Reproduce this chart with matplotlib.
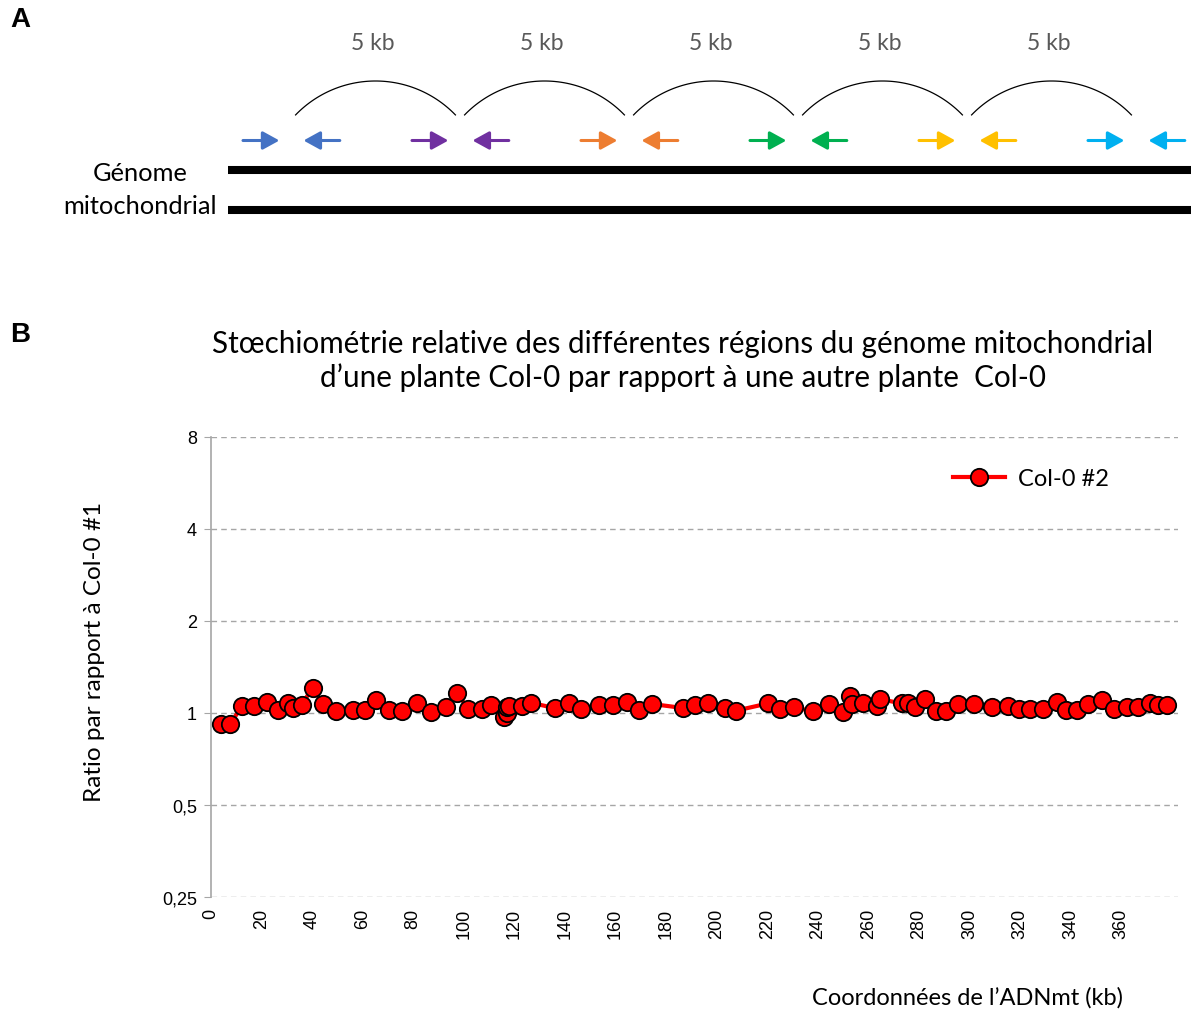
import matplotlib
matplotlib.use("Agg")
import matplotlib.pyplot as plt
import numpy as np

# ---- panel A: schematic of the 5 kb amplicons along the mt genome ----
primer_pairs_kb = [0, 5, 10, 15, 20, 25]        # junction between two amplicons
primer_colors = ["#4472C4", "#7030A0", "#ED7D31", "#00B050", "#FFC000", "#00B0F0"]
amplicon_labels = ["5 kb", "5 kb", "5 kb", "5 kb", "5 kb"]

# ---- panel B: relative stoichiometry along the mt genome ----
coord_kb = [3.8, 7.5, 12.4, 17.1, 22.3, 26.4, 30.3, 32.6, 35.9, 40.2,
            44.2, 49.4, 56.0, 61.0, 65.1, 70.5, 75.7, 81.6, 87.0, 92.8,
            97.4, 101.8, 107.0, 110.6, 115.8, 116.9, 116.9, 117.8, 122.9, 126.5,
            136.0, 141.7, 146.4, 153.5, 159.2, 164.4, 169.3, 174.6, 186.8, 191.5,
            196.7, 203.3, 207.7, 220.4, 225.1, 230.6, 238.0, 244.5, 249.9, 252.8,
            253.4, 258.0, 263.3, 264.6, 273.2, 275.8, 278.5, 282.4, 286.7, 290.7,
            295.4, 301.9, 308.8, 315.4, 319.6, 324.0, 329.2, 334.5, 338.1, 342.4,
            347.0, 352.6, 357.2, 362.5, 366.6, 371.4, 374.7, 378.0]
ratio = [0.92, 0.92, 1.056, 1.056, 1.089, 1.025, 1.075, 1.038, 1.065, 1.21,
         1.07, 1.018, 1.02, 1.02, 1.10, 1.02, 1.018, 1.08, 1.01, 1.05,
         1.16, 1.03, 1.03, 1.06, 0.968, 1.0, 1.045, 1.056, 1.056, 1.08,
         1.038, 1.08, 1.03, 1.06, 1.06, 1.09, 1.02, 1.07, 1.038, 1.065,
         1.08, 1.038, 1.018, 1.075, 1.03, 1.044, 1.013, 1.07, 1.005, 1.14,
         1.07, 1.08, 1.056, 1.11, 1.075, 1.08, 1.044, 1.11, 1.018, 1.013,
         1.07, 1.07, 1.05, 1.056, 1.03, 1.03, 1.03, 1.089, 1.02, 1.02,
         1.07, 1.105, 1.03, 1.05, 1.05, 1.075, 1.065, 1.06]
series_name = "Col-0 #2"
y_ticks = [0.25, 0.5, 1, 2, 4, 8]
y_ticklabels = ["0,25", "0,5", "1", "2", "4", "8"]
x_ticks = list(range(0, 361, 20))

calibri = ["Lato", "DejaVu Sans"]
arial = ["Liberation Sans", "DejaVu Sans"]

W, H = 1191, 1012
fig = plt.figure(figsize=(W / 100, H / 100), dpi=100)

# panel A axes: x in kb (33.8 px per kb, first junction at px 291), y in px from top
px_per_kb = 33.8
x0_px = 291
axA = fig.add_axes([0, 1 - 240 / H, 1, 240 / H])
axA.set_xlim(-x0_px / px_per_kb, (W - x0_px) / px_per_kb)
axA.set_ylim(240, 0)
axA.axis("off")

# genome strands
for yl in (170.5, 211.3):
    axA.plot([-63 / px_per_kb, W / px_per_kb], [yl, yl], color="black", lw=5.8,
             solid_capstyle="butt")

# primers
for c_kb, col in zip(primer_pairs_kb, primer_colors):
    fwd = (c_kb - 48 / px_per_kb, c_kb - 11.6 / px_per_kb)
    rev = (c_kb + 48.8 / px_per_kb, c_kb + 12.5 / px_per_kb)
    for tail, head in (fwd, rev):
        axA.annotate("", xy=(head, 141.5), xytext=(tail, 141.5),
                     arrowprops=dict(arrowstyle="-|>,head_length=1.0,head_width=0.55",
                                     mutation_scale=10, lw=2.2, color=col,
                                     shrinkA=0, shrinkB=0))

# arcs between consecutive junctions
r = 111.1
t = np.linspace(np.radians(44), np.radians(136), 60)
for a, b, lab in zip(primer_pairs_kb[:-1], primer_pairs_kb[1:], amplicon_labels):
    mid = (a + b) / 2
    axA.plot(mid + r * np.cos(t) / px_per_kb, 82 + r - r * np.sin(t),
             color="black", lw=0.9)
    axA.text(mid - 3 / px_per_kb, 44, lab, ha="center", va="center",
             fontsize=16.5, color="#595959", family=calibri)

axA.text(140 / px_per_kb - x0_px / px_per_kb, 174, "Génome", ha="center", va="center",
         fontsize=18.3, family=calibri)
axA.text(140 / px_per_kb - x0_px / px_per_kb, 207, "mitochondrial", ha="center",
         va="center", fontsize=18.3, family=calibri)

fig.text(20 / W, 1 - 20 / H, "A", ha="center", va="center", fontsize=20,
         fontweight="bold", family=arial)
fig.text(20 / W, 1 - 335 / H, "B", ha="center", va="center", fontsize=20,
         fontweight="bold", family=arial)

# panel B
ax = fig.add_axes([211 / W, 1 - 898 / H, 967 / W, 460 / H])
ax.plot(coord_kb, ratio, "-o", color="#FF0000", lw=3, ms=12.5,
        mfc="#FF0000", mec="black", mew=1.3, label=series_name, zorder=3)
ax.set_yscale("log", base=2)
ax.set_ylim(0.25, 8)
ax.set_xlim(0, 382.5)
ax.set_yticks(y_ticks)
ax.set_yticklabels(y_ticklabels)
ax.minorticks_off()
ax.set_xticks(x_ticks)
ax.set_xticklabels([str(v) for v in x_ticks], rotation=90)
for lab in ax.get_xticklabels() + ax.get_yticklabels():
    lab.set_family(arial)
    lab.set_fontsize(13)
ax.tick_params(axis="y", length=5, color="#A6A6A6", pad=5)
ax.tick_params(axis="x", length=0, pad=8)
ax.yaxis.grid(True, ls=(0, (4, 3)), color="#A6A6A6", lw=1)
for s in ("top", "right", "bottom"):
    ax.spines[s].set_visible(False)
ax.spines["left"].set_color("#A6A6A6")
ax.spines["left"].set_linewidth(1.2)

leg = ax.legend(loc="center left", bbox_to_anchor=(953 / W, 1 - 480 / H),
                bbox_transform=fig.transFigure, frameon=False, borderpad=0,
                borderaxespad=0, handlelength=2.2, handletextpad=0.55,
                prop=dict(family=calibri, size=17))

fig.text(683 / W, 1 - 361 / H,
         "Stœchiométrie relative des différentes régions du génome mitochondrial\n"
         "d\u2019une plante Col-0 par rapport à une autre plante  Col-0",
         ha="center", va="center", fontsize=21.3, family=calibri, linespacing=1.25)
fig.text(95 / W, 1 - 652 / H, "Ratio par rapport à Col-0 #1", rotation=90,
         ha="center", va="center", fontsize=17.5, family=calibri)
fig.text(967 / W, 1 - 998 / H, "Coordonnées de l\u2019ADNmt (kb)", ha="center",
         va="center", fontsize=17, family=calibri)

fig.savefig("out.png", dpi=100)
